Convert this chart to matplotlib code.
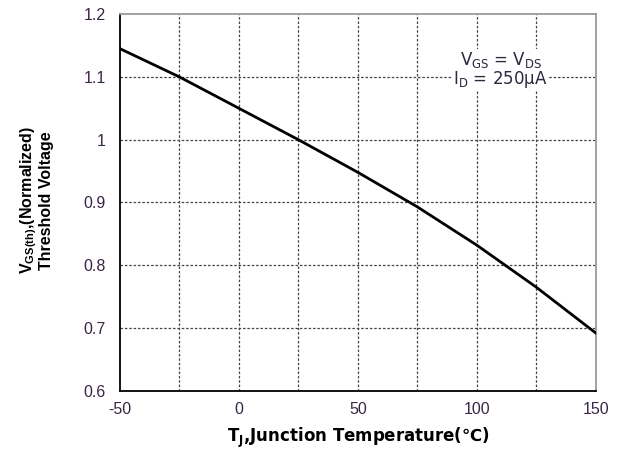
import matplotlib
matplotlib.use("Agg")
import matplotlib.pyplot as plt

plt.rcParams['font.family'] = ['Liberation Sans', 'Noto Sans CJK SC', 'DejaVu Sans']
plt.rcParams['axes.unicode_minus'] = False

# curve
temp_c = [-50, -25, 0, 25, 50, 75, 100, 125, 150]
vth_norm = [1.145, 1.100, 1.050, 1.000, 0.948, 0.893, 0.832, 0.765, 0.692]

x_ticks = [-50, 0, 50, 100, 150]
y_ticks = [0.6, 0.7, 0.8, 0.9, 1.0, 1.1, 1.2]
y_labels = ['0.6', '0.7', '0.8', '0.9', '1', '1.1', '1.2']

tick_color = '#3a2545'

fig = plt.figure(figsize=(6.24, 4.53), dpi=100)
ax = fig.add_axes([0.192, 0.137, 0.763, 0.832])

# dashed grid every 25 degC / 0.1
for gx in range(-25, 150, 25):
    ax.axvline(gx, color='#444444', linestyle=(0, (2, 1.5)), linewidth=0.9, zorder=1)
for gy in [0.7, 0.8, 0.9, 1.0, 1.1]:
    ax.axhline(gy, color='#444444', linestyle=(0, (2, 1.5)), linewidth=0.9, zorder=1)

ax.plot(temp_c, vth_norm, color='black', linewidth=2.0, zorder=3)

ax.set_xlim(-50, 150)
ax.set_ylim(0.6, 1.2)
ax.set_xticks(x_ticks)
ax.set_yticks(y_ticks)
ax.set_yticklabels(y_labels)
ax.tick_params(axis='both', length=0, labelsize=11.5, colors=tick_color, pad=10)
ax.tick_params(axis='x', pad=8)

for side in ['left', 'bottom']:
    ax.spines[side].set_color('black')
    ax.spines[side].set_linewidth(1.3)
for side in ['top', 'right']:
    ax.spines[side].set_color('#9a9a9a')
    ax.spines[side].set_linewidth(1.3)

ax.set_xlabel(r'T$_\mathregular{J}$,Junction Temperature(℃)', fontsize=12,
              fontweight='bold', labelpad=6,
              family=['DejaVu Sans', 'Noto Sans CJK SC'])
fig.text(0.058, 0.558, r'V$_\mathregular{GS(th)}$,(Normalized)' + '\nThreshold Voltage',
         rotation=90, ha='center', va='center', fontsize=11.5, fontweight='bold',
         linespacing=1.0)

ax.text(0.80, 0.852, r'V$_\mathregular{GS}$ = V$_\mathregular{DS}$' + '\n' +
        r'I$_\mathregular{D}$ = 250μA',
        transform=ax.transAxes, ha='center', va='center', fontsize=12,
        color='#2a2a40', linespacing=0.95, family=['DejaVu Sans'],
        bbox=dict(facecolor='white', edgecolor='none', pad=1))

fig.savefig('out.png', dpi=100)
